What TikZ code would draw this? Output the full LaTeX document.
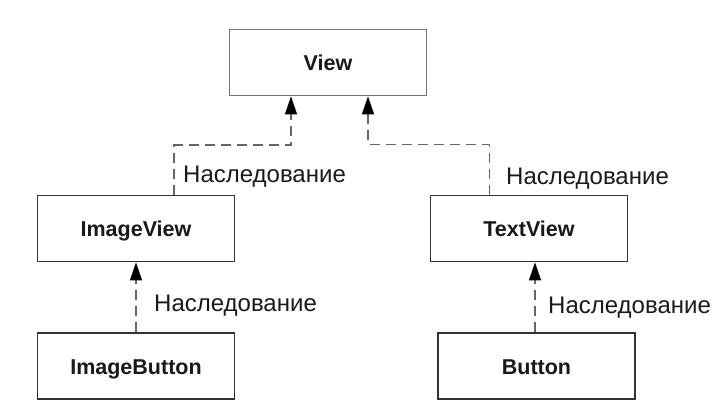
\documentclass[tikz,border=0pt]{standalone}
\usepackage{fontspec}
\setmainfont{Liberation Sans}
\usetikzlibrary{positioning,arrows.meta}
\tikzset{%
  classBox/.style={
    rectangle, draw=black!80, line width=1.8pt,
    minimum width=197pt, minimum height=66pt, align=center,
    font=\fontsize{21.5}{24}\selectfont\bfseries, text=black!90,
    text height=15.4pt, text depth=0pt, fill=white},
  rootBox/.style={classBox, draw=black!55},
  inheritArrow/.style={-{Triangle[length=18pt,width=12pt,color=black]},
    line width=1.6pt, black!60, dash pattern=on 10pt off 6pt},
  inheritLabel/.style={font=\fontsize{24}{28}\selectfont, anchor=base west,
    inner sep=0pt, text=black!90},
}

\begin{document}
\begin{tikzpicture}[x=1pt,y=1pt]
  \useasboundingbox (0,0) rectangle (718,-416);
  \node[rootBox]  (view)     at (328,-62.5)  {View};
  \node[classBox] (imgView)  at (136,-228.5) {ImageView};
  \node[classBox] (textView) at (529,-228.5) {TextView};
  \node[classBox, below=70pt of imgView]                (imgButton) {ImageButton};
  \node[classBox, below=70pt of textView, xshift=7.5pt] (button)    {Button};
  % inheritance links
  \draw[inheritArrow] ([xshift=38pt]imgView.north) -- ++(0,49.5) -| ([xshift=-37pt]view.south);
  \draw[inheritArrow] ([xshift=-39.5pt]textView.north) -- ++(0,50) -| ([xshift=40pt]view.south);
  \draw[inheritArrow] (imgButton) -- (imgView);
  \draw[inheritArrow] ([xshift=-1.5pt]button.north) -- ([xshift=-1.5pt]button.north |- textView.south);
  \node[inheritLabel] (lblImgView)  at (183,-182)   {Наследование};
  \node[inheritLabel] (lblTextView) at (506,-184)   {Наследование};
  \node[inheritLabel] (lblImgBtn)   at (154,-311.5) {Наследование};
  \node[inheritLabel] (lblButton)   at (548,-313)   {Наследование};
\end{tikzpicture}
\end{document}
